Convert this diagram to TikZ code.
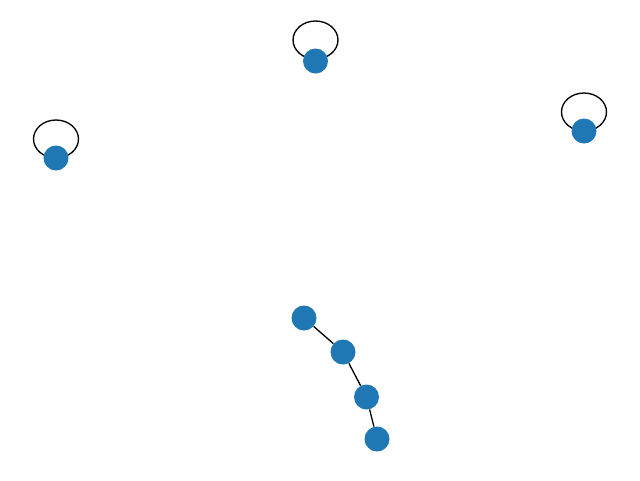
\documentclass[tikz,border=0pt]{standalone}
\definecolor{nodeblue}{HTML}{1F77B4}
\tikzset{
  gnode/.style={circle, fill=nodeblue, draw=none, minimum size=18.75pt, inner sep=0pt},
  gedge/.style={line width=1pt, black},
  gloop/.style={line width=1pt, black}
}
\begin{document}
\begin{tikzpicture}[x=0.75pt, y=-0.75pt]
\useasboundingbox (0,0) rectangle (640,480);
% loops (drawn first, beneath nodes)
\draw[gloop] (315.5,40) ellipse [x radius=22.5, y radius=19];
\draw[gloop] (56,139) ellipse [x radius=22.5, y radius=19];
\draw[gloop] (584,112) ellipse [x radius=22.5, y radius=19];
% nodes
\node[gnode] (a) at (315.5,61) {};
\node[gnode] (b) at (56,158) {};
\node[gnode] (c) at (584,131) {};
\node[gnode] (d) at (304,318) {};
\node[gnode] (e) at (343,352) {};
\node[gnode] (f) at (366.5,397) {};
\node[gnode] (g) at (377,439) {};
% edges
\begin{scope}[on background layer/.style={}]
\end{scope}
\draw[gedge] (d) -- (e);
\draw[gedge] (e) -- (f);
\draw[gedge] (f) -- (g);
\end{tikzpicture}
\end{document}
